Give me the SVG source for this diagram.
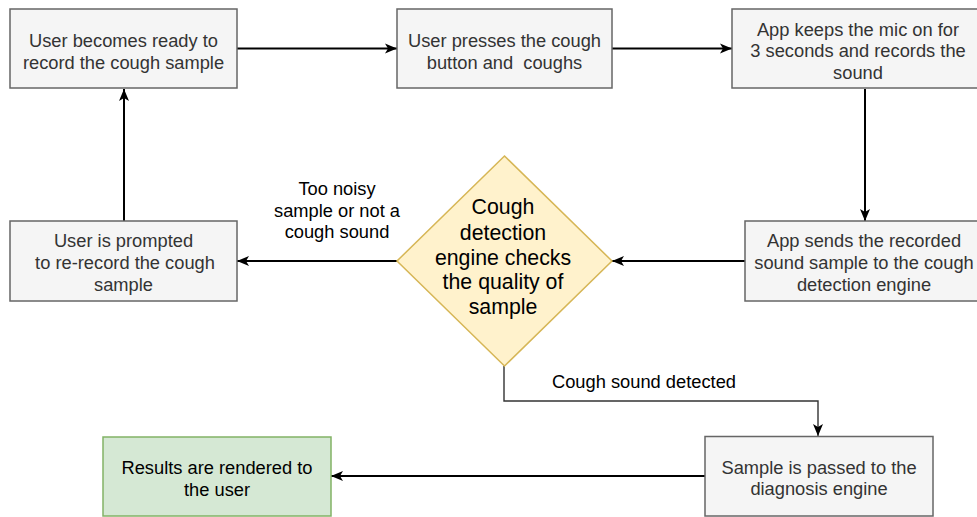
<svg xmlns="http://www.w3.org/2000/svg" width="977" height="517" viewBox="0 0 977 517">
<defs>
<style>
.box{fill:#f5f5f5;stroke:#666666;stroke-width:1.5}
.dia{fill:#fff2cc;stroke:#d6b656;stroke-width:1.5}
.grn{fill:#d5e8d4;stroke:#82b366;stroke-width:1.5}
text{font-family:"Liberation Sans",Arial,Helvetica,sans-serif;font-size:18.3px;text-anchor:middle}
.t{fill:#333333}
.k{fill:#000000}
.dt{font-size:21.3px;fill:#000000}
.edge{fill:none;stroke:#000000;stroke-width:2}
.edge2{fill:none;stroke:#333333;stroke-width:1.4}
</style>
<marker id="arr" viewBox="0 0 12 12" refX="12" refY="6" markerWidth="12" markerHeight="12" markerUnits="userSpaceOnUse" orient="auto">
<path d="M0,1 L12,6 L0,11 L3,6 z" fill="#000000"/>
</marker>
</defs>
<rect width="977" height="517" fill="#ffffff"/>
<g id="connectors">
<path class="edge" d="M237,48.5 L397,48.5" marker-end="url(#arr)"/>
<path class="edge" d="M612,48.5 L732,48.5" marker-end="url(#arr)"/>
<path class="edge" d="M865,89 L865,221" marker-end="url(#arr)"/>
<path class="edge" d="M745,261 L612,261" marker-end="url(#arr)"/>
<path class="edge" d="M397,261 L237,261" marker-end="url(#arr)"/>
<path class="edge" d="M124,221 L124,89" marker-end="url(#arr)"/>
<path class="edge2" d="M504,366 L504,401 L818,401 L818,436" marker-end="url(#arr)"/>
<path class="edge" d="M705,476 L331,476" marker-end="url(#arr)"/>
<g id="label-noisy">
<text class="k" x="337" y="195">Too noisy</text>
<text class="k" x="337" y="216.5">sample or not a</text>
<text class="k" x="337" y="238">cough sound</text>
</g>
<text id="label-detected" class="k" x="644" y="387.5">Cough sound detected</text>
</g>
<g id="n1">
<rect class="box" x="10" y="9" width="227" height="79"/>
<text class="t" x="123.5" y="46.5">User becomes ready to</text>
<text class="t" x="123.5" y="68.5">record the cough sample</text>
</g>
<g id="n2">
<rect class="box" x="397" y="9" width="215" height="79"/>
<text class="t" x="504.5" y="46.5">User presses the cough</text>
<text class="t" x="504.5" y="68.5" style="white-space:pre" xml:space="preserve">button and  coughs</text>
</g>
<g id="n3">
<rect class="box" x="732" y="9" width="252" height="79"/>
<text class="t" x="858" y="35.5">App keeps the mic on for</text>
<text class="t" x="858" y="57">3 seconds and records the</text>
<text class="t" x="858" y="78.5">sound</text>
</g>
<g id="n4">
<rect class="box" x="745" y="221" width="238" height="80"/>
<text class="t" x="864" y="247">App sends the recorded</text>
<text class="t" x="864" y="269">sound sample to the cough</text>
<text class="t" x="864" y="290.5">detection engine</text>
</g>
<g id="n5">
<path class="dia" d="M504.5,156 L612,261 L504.5,366 L397,261 Z"/>
<text class="dt" x="503" y="214">Cough</text>
<text class="dt" x="503" y="239.5">detection</text>
<text class="dt" x="503" y="264.5">engine checks</text>
<text class="dt" x="503" y="289">the quality of</text>
<text class="dt" x="503" y="314">sample</text>
</g>
<g id="n6">
<rect class="box" x="10" y="221" width="227" height="80"/>
<text class="t" x="123.5" y="247">User is prompted</text>
<text class="t" x="125" y="269">to re-record the cough</text>
<text class="t" x="123.5" y="290.5">sample</text>
</g>
<g id="n7">
<rect class="box" x="705" y="436.5" width="228" height="79.5"/>
<text class="t" x="819" y="473.5">Sample is passed to the</text>
<text class="t" x="819" y="494.5">diagnosis engine</text>
</g>
<g id="n8">
<rect class="grn" x="103" y="437" width="228" height="79"/>
<text class="k" x="217" y="474">Results are rendered to</text>
<text class="k" x="217" y="495.5">the user</text>
</g>
</svg>
